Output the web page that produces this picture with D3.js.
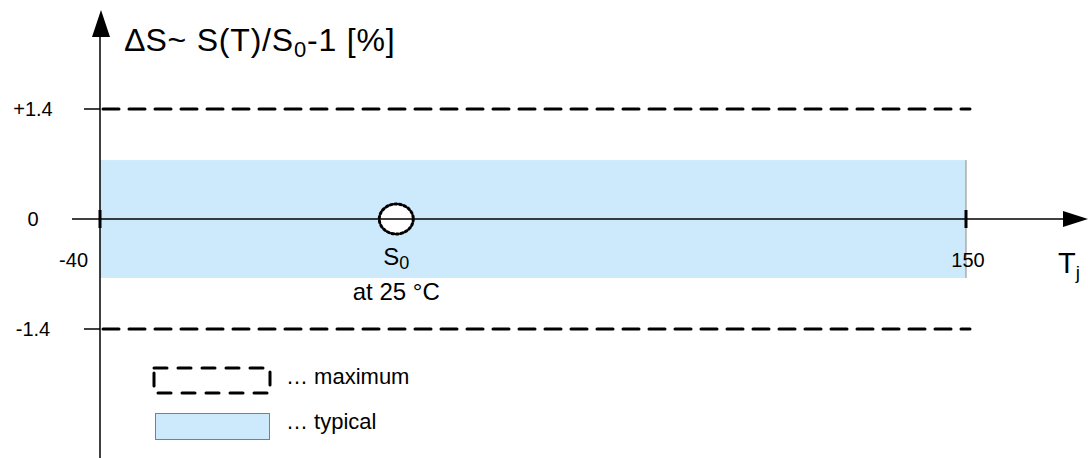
<!DOCTYPE html>
<html lang="en">
<head>
    <meta charset="UTF-8">
    <title>Sensitivity drift over temperature</title>
    <script src="https://d3js.org/d3.v7.min.js"></script>
    <style>
        body { margin: 0; background: #fff; }
        svg { font-family: "Liberation Sans", Arial, sans-serif; }
        .lbl { font-size: 20px; fill: #000; }
        .leg { font-size: 22px; fill: #000; }
    </style>
</head>
<body>
    <script>
        // Chart values
        const tempDomain = [-40, 150];        // T_j range shown
        const tempTicks = [-40, 150];
        const refTemp = 25;                   // S0 reference point
        const deltaTicks = [1.4, 0, -1.4];    // y tick values [%]
        const deltaTickLabels = ["+1.4", "0", "-1.4"];
        const maxLimits = [1.4, -1.4];        // dashed maximum limits
        const typBand = [-0.75, 0.75];        // typical band

        const width = 1088;
        const height = 458;

        const svg = d3.select("body").append("svg")
            .attr("width", width)
            .attr("height", height);

        // Scales
        const x = d3.scaleLinear().domain(tempDomain).range([100, 966]);
        const y = d3.scaleLinear().domain([-1.4, 1.4]).range([329, 109]);

        const blue = "#cdeafc";

        // Typical band
        svg.append("rect")
            .attr("x", x(tempDomain[0]))
            .attr("y", y(typBand[1]))
            .attr("width", x(tempDomain[1]) - x(tempDomain[0]))
            .attr("height", y(typBand[0]) - y(typBand[1]))
            .attr("fill", blue);
        svg.append("line")
            .attr("x1", x(tempDomain[1])).attr("x2", x(tempDomain[1]))
            .attr("y1", y(typBand[1])).attr("y2", y(typBand[0]))
            .attr("stroke", "#8a8a8a").attr("stroke-width", 1);

        // Maximum limits
        svg.selectAll(".maxline")
            .data(maxLimits)
            .enter().append("line")
            .attr("class", "maxline")
            .attr("x1", x(tempDomain[0]) + 3)
            .attr("x2", x(tempDomain[1]) + 4)
            .attr("y1", d => y(d)).attr("y2", d => y(d))
            .attr("stroke", "#000")
            .attr("stroke-width", 3)
            .attr("stroke-linecap", "round")
            .attr("stroke-dasharray", "16 10");

        // Y axis with arrow
        svg.append("line")
            .attr("x1", 100).attr("x2", 100)
            .attr("y1", 30).attr("y2", height)
            .attr("stroke", "#000").attr("stroke-width", 1.5);
        svg.append("path")
            .attr("d", "M101,10 L92,37 L110,37 Z")
            .attr("fill", "#000");

        // Y ticks (thin stubs left of axis)
        svg.selectAll(".ytick")
            .data(deltaTicks.filter(d => d !== 0))
            .enter().append("line")
            .attr("x1", 84).attr("x2", 100)
            .attr("y1", d => y(d)).attr("y2", d => y(d))
            .attr("stroke", "#000").attr("stroke-width", 1.5);

        svg.selectAll(".ylab")
            .data(deltaTicks)
            .enter().append("text")
            .attr("class", "lbl")
            .attr("x", 33)
            .attr("y", d => y(d) + 7)
            .attr("text-anchor", "middle")
            .text((d, i) => deltaTickLabels[i]);

        // X axis with arrow
        svg.append("line")
            .attr("x1", 72).attr("x2", 1066)
            .attr("y1", y(0)).attr("y2", y(0))
            .attr("stroke", "#000").attr("stroke-width", 1.5);
        svg.append("path")
            .attr("d", `M1088,${y(0)} L1063,${y(0) - 8} L1063,${y(0) + 8} Z`)
            .attr("fill", "#000");

        svg.selectAll(".xtick")
            .data(tempTicks)
            .enter().append("line")
            .attr("x1", d => x(d)).attr("x2", d => x(d))
            .attr("y1", y(0) - 9).attr("y2", y(0) + 9)
            .attr("stroke", "#000").attr("stroke-width", 3);

        svg.selectAll(".xlab")
            .data(tempTicks)
            .enter().append("text")
            .attr("class", "lbl")
            .attr("x", d => d === tempDomain[0] ? x(d) - 12 : x(d) + 2)
            .attr("y", y(0) + 48)
            .attr("text-anchor", d => d === tempDomain[0] ? "end" : "middle")
            .text(d => d);

        // Reference point S0
        svg.append("ellipse")
            .attr("cx", x(refTemp)).attr("cy", y(0))
            .attr("rx", 17).attr("ry", 15)
            .attr("fill", "#fff")
            .attr("stroke", "#000").attr("stroke-width", 3)
            .attr("stroke-linecap", "round")
            .attr("stroke-dasharray", "2 2.6");
        svg.append("line")
            .attr("x1", x(refTemp) - 17).attr("x2", x(refTemp) + 17)
            .attr("y1", y(0)).attr("y2", y(0))
            .attr("stroke", "#000").attr("stroke-width", 1.5);

        const s0 = svg.append("text")
            .attr("x", x(refTemp)).attr("y", y(0) + 46)
            .attr("text-anchor", "middle")
            .attr("font-size", 24);
        s0.append("tspan").text("S");
        s0.append("tspan").attr("dy", 4).attr("font-size", 18).text("0");

        svg.append("text")
            .attr("x", x(refTemp)).attr("y", y(0) + 81)
            .attr("text-anchor", "middle")
            .attr("font-size", 24)
            .text("at 25 \u00b0C");

        // Axis titles
        const yt = svg.append("text")
            .attr("x", 125).attr("y", 51)
            .attr("font-size", 32)
            .attr("letter-spacing", 0.8);
        yt.append("tspan").text("\u2206S~ S(T)/S");
        yt.append("tspan").attr("dy", 6).attr("font-size", 22).text("0");
        yt.append("tspan").attr("dy", -6).text("-1 [%]");

        const xt = svg.append("text")
            .attr("x", 1058).attr("y", y(0) + 54)
            .attr("font-size", 29);
        xt.append("tspan").text("T");
        xt.append("tspan").attr("dy", 6).attr("font-size", 19).text("j");

        // Legend
        svg.append("rect")
            .attr("x", 154).attr("y", 368)
            .attr("width", 116).attr("height", 25)
            .attr("fill", "none")
            .attr("stroke", "#000").attr("stroke-width", 3)
            .attr("stroke-linecap", "round")
            .attr("stroke-dasharray", "13 11");
        svg.append("text")
            .attr("class", "leg")
            .attr("x", 286).attr("y", 384)
            .text("\u2026 maximum");

        svg.append("rect")
            .attr("x", 155.5).attr("y", 413.5)
            .attr("width", 114).attr("height", 26)
            .attr("fill", blue)
            .attr("stroke", "#7f7f7f").attr("stroke-width", 1);
        svg.append("text")
            .attr("class", "leg")
            .attr("x", 286).attr("y", 429)
            .text("\u2026 typical");
    </script>
</body>
</html>
